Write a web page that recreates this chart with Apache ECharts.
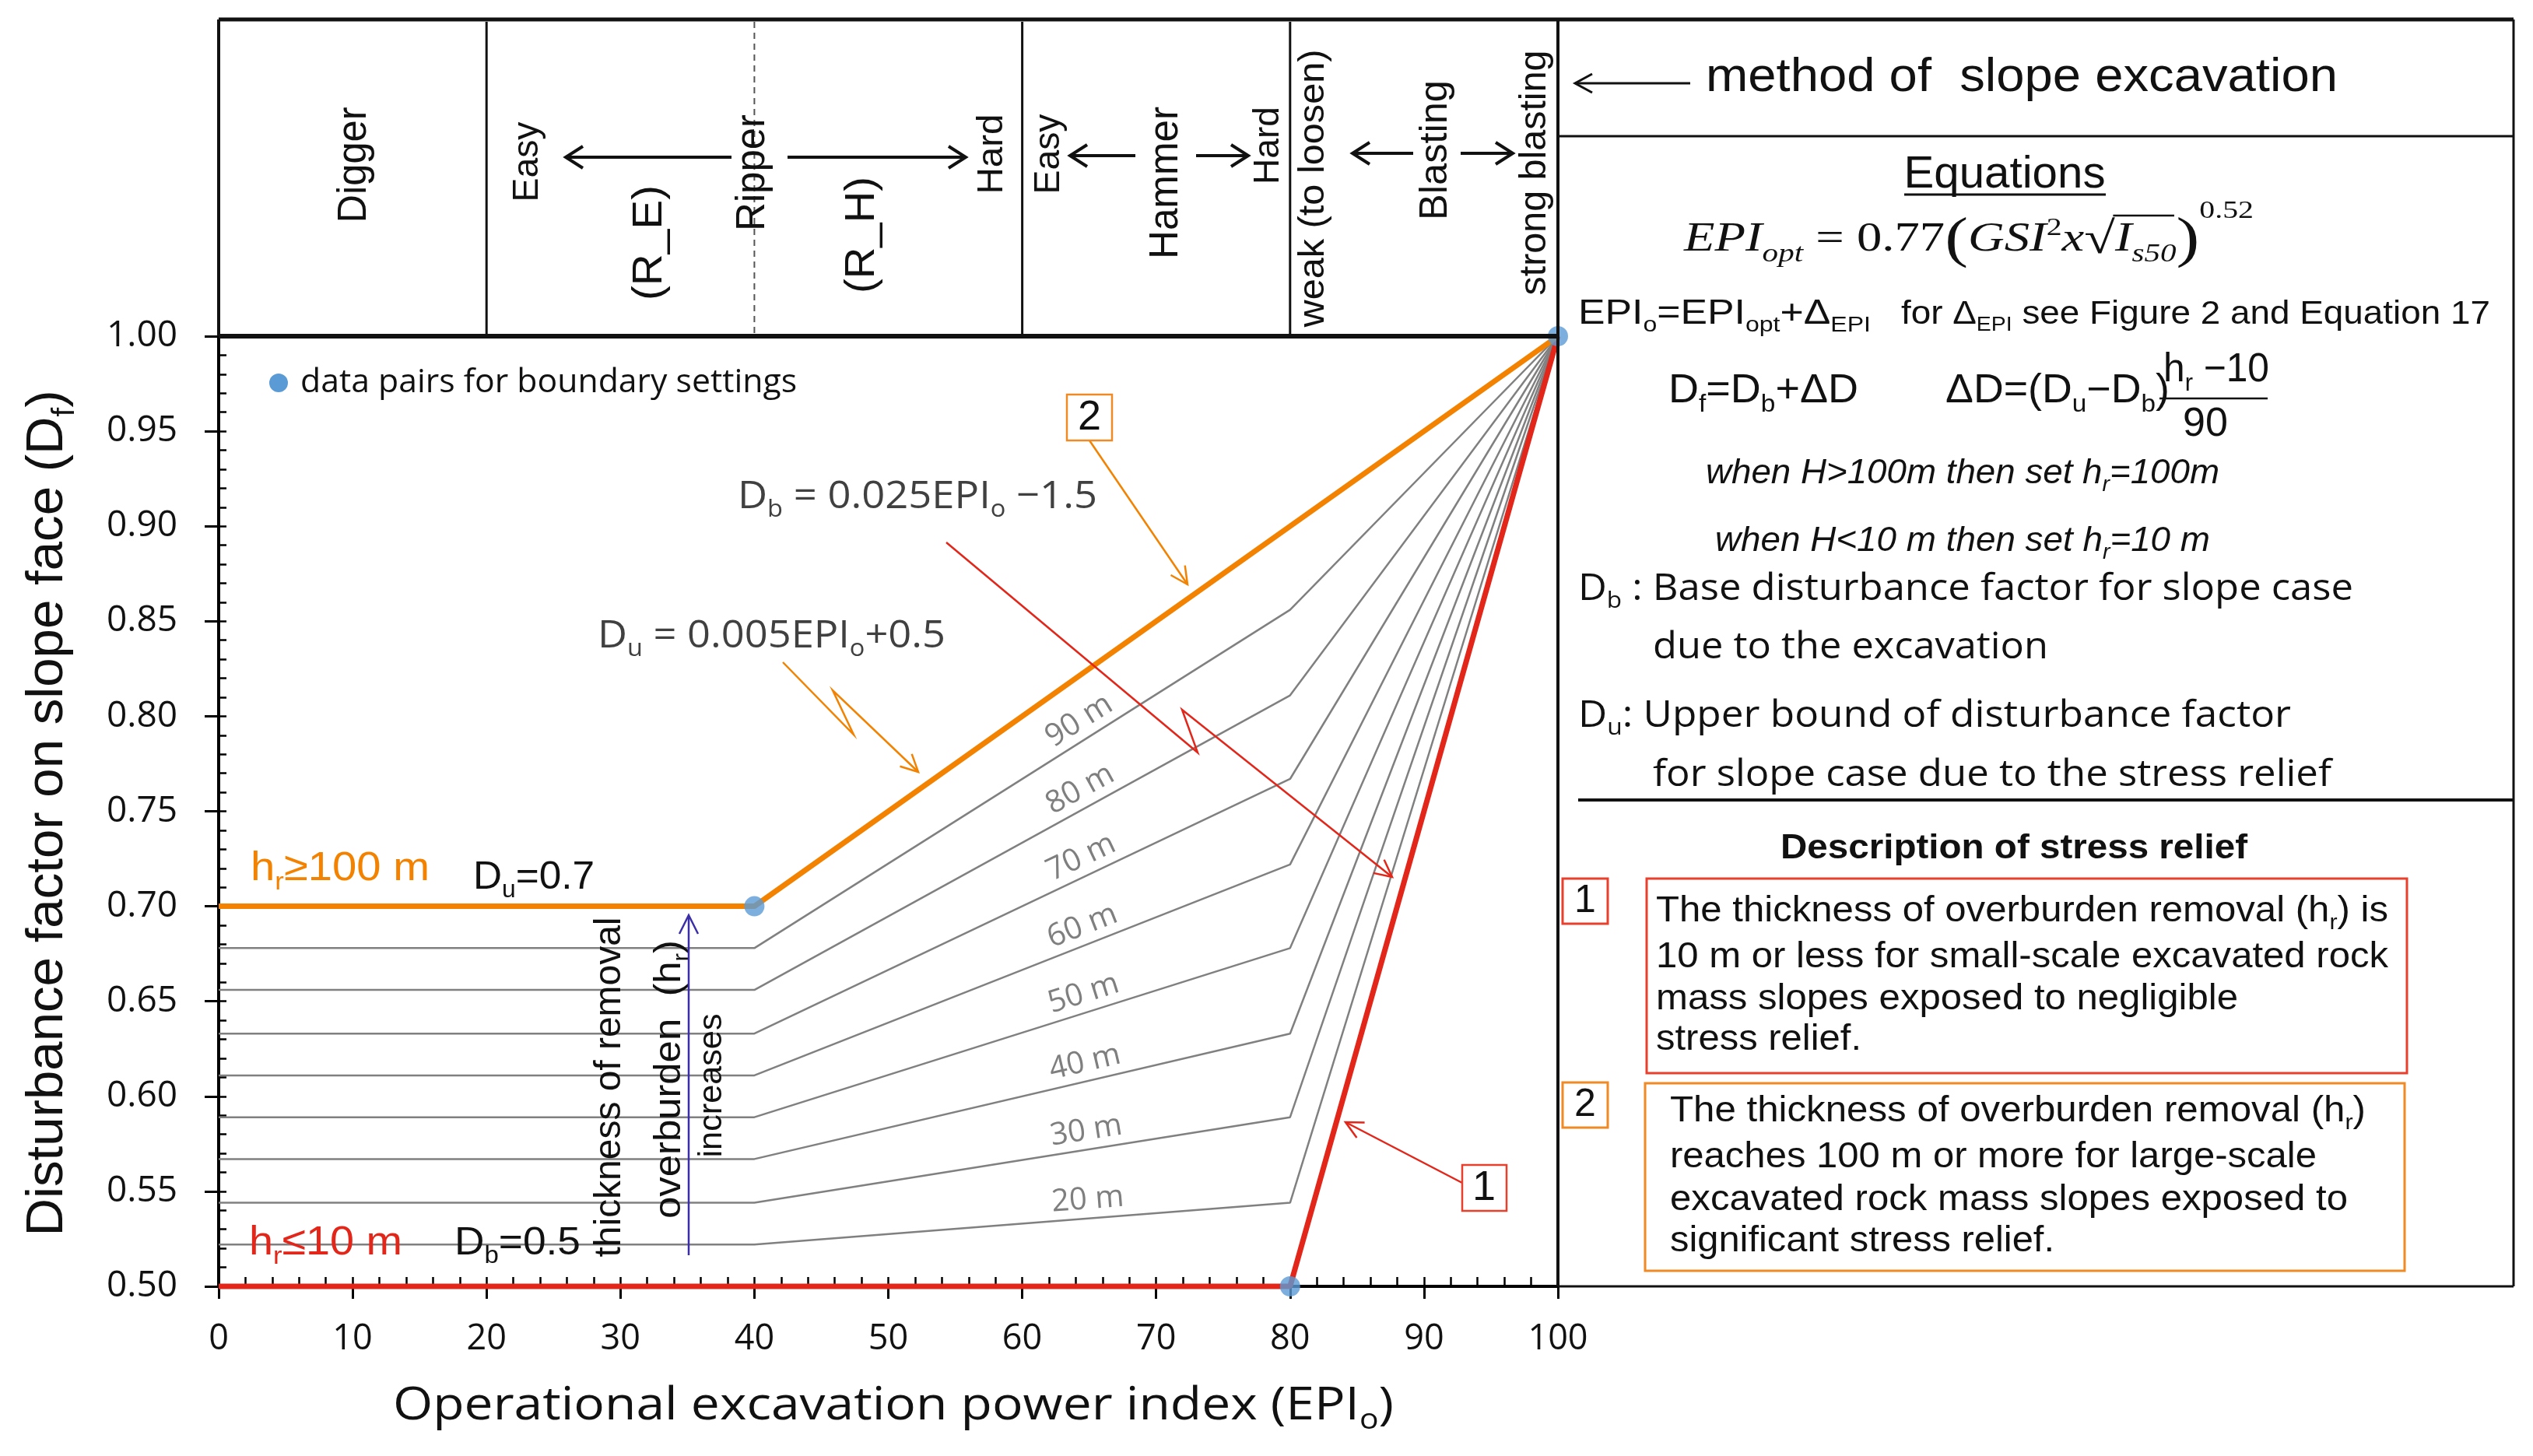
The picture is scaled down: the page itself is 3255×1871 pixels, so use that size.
<!DOCTYPE html>
<html><head><meta charset="utf-8">
<script src="https://cdn.jsdelivr.net/npm/echarts@6/dist/echarts.min.js"></script>
<style>html,body{margin:0;padding:0;background:#fff}#c{width:3255px;height:1871px}</style>
</head><body><div id="c"></div>
<script>
// ---------------- data ----------------
const epiBreaks = [0, 40, 80, 100];
const hrNames = ['20 m', '30 m', '40 m', '50 m', '60 m', '70 m', '80 m', '90 m'];
const hr20 = [0.522, 0.522, 0.544, 1.00];
const hr30 = [0.544, 0.544, 0.589, 1.00];
const hr40 = [0.567, 0.567, 0.633, 1.00];
const hr50 = [0.589, 0.589, 0.678, 1.00];
const hr60 = [0.611, 0.611, 0.722, 1.00];
const hr70 = [0.633, 0.633, 0.767, 1.00];
const hr80 = [0.656, 0.656, 0.811, 1.00];
const hr90 = [0.678, 0.678, 0.856, 1.00];
const hr100Epi = [0, 40, 100];
const hr100Df = [0.70, 0.70, 1.00];
const hr10Epi = [0, 80, 100];
const hr10Df = [0.50, 0.50, 1.00];
const pairEpi = [40, 80, 100];
const pairDf = [0.70, 0.50, 1.00];
const methodBounds = [20, 40, 60, 80];

// ---------------- helpers ----------------
const SANS = "'Liberation Sans', Arial, sans-serif";
const CAL = "'Open Sans', sans-serif";
const SERIF = "'Liberation Serif', 'Times New Roman', serif";
const ctx = document.createElement('canvas').getContext('2d');
function tw(t, size, fam, fs, fw) { ctx.font = (fs || 'normal') + ' ' + (fw || 'normal') + ' ' + size + 'px ' + fam; return ctx.measureText(t).width; }
function parts(s) {
  const out = []; let i = 0, buf = '';
  while (i < s.length) {
    if ((s[i] === '_' || s[i] === '^') && s[i + 1] === '{') {
      if (buf) { out.push([buf, 'n']); buf = ''; }
      const j = s.indexOf('}', i);
      out.push([s.slice(i + 2, j), s[i] === '_' ? 'b' : 'p']);
      i = j + 1;
    } else { buf += s[i]; i++; }
  }
  if (buf) out.push([buf, 'n']);
  return out;
}
function tstyle(t, sz, fam, fs, fw, col) {
  return {text: t, x: 0, y: 0, fontSize: sz, fontFamily: fam, fontStyle: fs, fontWeight: fw, fill: col,
    align: 'left', verticalAlign: 'middle', textAlign: 'left', textVerticalAlign: 'middle'};
}
function label(x, y, s, o) {
  const size = o.size, fam = o.family || SANS, col = o.color || '#111';
  const fs = o.style || 'normal', fw = o.weight || 'normal';
  const sub = size * 0.62;
  let w = 0; const items = [];
  parts(s).forEach(([t, k]) => { const sz = k === 'n' ? size : sub; items.push({t, k, sz, x: w}); w += tw(t, sz, fam, fs, fw); });
  const off = o.align === 'center' ? -w / 2 : (o.align === 'right' ? -w : 0);
  const children = items.map(it => ({type: 'text', z: 100, x: it.x + off,
    y: it.k === 'n' ? 0 : (it.k === 'b' ? size * 0.32 : -size * 0.36),
    style: tstyle(it.t, it.sz, fam, fs, fw, col)}));
  let sc = o.fit ? o.fit / w : 1; sc = Math.max(0.7, Math.min(1.4, sc));
  return {type: 'group', x: x, y: y, rotation: o.rot || 0, scaleX: sc, z: 100, children};
}
function line(pts, color, w, dash) {
  const st = {stroke: color, lineWidth: w, fill: 'none'};
  if (dash) st.lineDash = dash;
  return {type: 'polyline', z: 100, shape: {points: pts}, style: st};
}
function head(tx, ty, fx, fy, color, w, len, half) {
  const a = Math.atan2(ty - fy, tx - fx);
  const bx = tx - len * Math.cos(a), by = ty - len * Math.sin(a);
  const nx = -Math.sin(a) * half, ny = Math.cos(a) * half;
  return line([[bx + nx, by + ny], [tx, ty], [bx - nx, by - ny]], color, w);
}
function rect(x, y, w, h, color, lw) {
  return {type: 'rect', z: 100, shape: {x, y, width: w, height: h}, style: {fill: '#fff', stroke: color, lineWidth: lw}};
}

// ---------------- chart ----------------
const chart = echarts.init(document.getElementById('c'), null, {width: 3255, height: 1871});
const grayList = [hr20, hr30, hr40, hr50, hr60, hr70, hr80, hr90];
const ORANGE = '#F28200', RED = '#E3261A', BLUE = '#5B9BD5';
const series = [];
grayList.forEach((v, k) => series.push({type: 'line', name: hrNames[k], data: epiBreaks.map((x, i) => [x, v[i]]),
  symbol: 'none', lineStyle: {color: '#808080', width: 2.5}, z: 3, clip: false, silent: true}));
series.push({type: 'line', name: 'hr<=10', data: hr10Epi.map((x, i) => [x, hr10Df[i]]), symbol: 'none',
  lineStyle: {color: RED, width: 7}, z: 4, clip: false});
series.push({type: 'line', name: 'hr>=100', data: hr100Epi.map((x, i) => [x, hr100Df[i]]), symbol: 'none',
  lineStyle: {color: ORANGE, width: 7}, z: 5, clip: false});
series.push({type: 'scatter', name: 'pairs', data: pairEpi.map((x, i) => [x, pairDf[i]]), symbolSize: 26,
  itemStyle: {color: BLUE}, z: 6, clip: false});

chart.setOption({
  animation: false,
  backgroundColor: '#fff',
  grid: {left: 281, top: 432, right: 1253, bottom: 218, containLabel: false},
  xAxis: [
    {type: 'value', min: 0, max: 100, interval: 10, position: 'bottom',
      axisLine: {show: true, onZero: false, lineStyle: {color: '#000', width: 4}},
      axisTick: {show: true, inside: false, length: 16, lineStyle: {color: '#000', width: 3}},
      axisLabel: {fontSize: 45, fontFamily: CAL, color: '#111', margin: 46},
      splitLine: {show: false}},
    {type: 'value', min: 0, max: 100, interval: 2, position: 'bottom', offset: 0,
      axisLine: {show: false}, axisTick: {show: true, inside: true, length: 12, lineStyle: {color: '#000', width: 2.5}},
      axisLabel: {show: false}, splitLine: {show: false}}
  ],
  yAxis: [
    {type: 'value', min: 0.5, max: 1.0, interval: 0.05, position: 'left',
      axisLine: {show: true, onZero: false, lineStyle: {color: '#000', width: 4}},
      axisTick: {show: true, inside: false, length: 18, lineStyle: {color: '#000', width: 3}},
      axisLabel: {fontSize: 46, fontFamily: CAL, color: '#111', margin: 53, formatter: v => v.toFixed(2)},
      splitLine: {show: false}},
    {type: 'value', min: 0.5, max: 1.0, interval: 0.01, position: 'left', offset: 0,
      axisLine: {show: false}, axisTick: {show: true, inside: true, length: 10, lineStyle: {color: '#000', width: 2.5}},
      axisLabel: {show: false}, splitLine: {show: false}}
  ],
  series
});

// ---------------- annotations ----------------
const g = [];
const px = v => chart.convertToPixel({seriesIndex: 0}, v);
const pTop = px([0, 1.0]), pBot = px([100, 0.5]);
const X0 = pTop[0], YT = pTop[1], X1 = pBot[0], YB = pBot[1];
const TOPY = 25, RX = 3230;

// frame
g.push(line([[X0, TOPY], [RX, TOPY]], '#111', 5));
g.push(line([[X0, TOPY], [X0, YT]], '#111', 4));
g.push(line([[X0, YT], [X1, YT]], '#111', 6));
g.push(line([[X1, TOPY], [X1, YB]], '#111', 4));
g.push(line([[RX, TOPY], [RX, YB]], '#111', 3));
g.push(line([[X1, YB], [RX, YB]], '#111', 3));
g.push(line([[X1, 175], [RX, 175]], '#111', 3));
g.push(line([[2028, 1028], [RX, 1028]], '#111', 4));
methodBounds.forEach(e => {
  const xx = px([e, 1.0])[0];
  if (e === 40) g.push(line([[xx, TOPY + 3], [xx, YT - 3]], '#555', 2, [8, 6]));
  else g.push(line([[xx, TOPY + 3], [xx, YT - 3]], '#111', 3));
});

// header texts
const R90 = Math.PI / 2;
const headerTexts = [
  [456, 212, 'Digger', 51, 149], [678, 208, 'Easy', 47, 103], [835, 312, '(R_E)', 54, 148],
  [968, 222, 'Ripper', 51, 150], [1108, 302, '(R_H)', 54, 150], [1275, 198, 'Hard', 47, 103],
  [1348, 198, 'Easy', 47, 103], [1499, 235, 'Hammer', 51, 196], [1630, 187, 'Hard', 47, 100],
  [1688, 242, 'weak (to loosen)', 46, 357], [1845, 193, 'Blasting', 50, 180], [1973, 222, 'strong blasting', 48, 315]
];
headerTexts.forEach(h => g.push(label(h[0], h[1], h[2], {size: h[3], align: 'center', rot: R90, fit: h[4]})));
[[940, 727, 202], [1012, 1241, 202], [1459, 1375, 200], [1537, 1604, 200], [1816, 1738, 197], [1877, 1944, 197]].forEach(a => {
  g.push(line([[a[0], a[2]], [a[1], a[2]]], '#111', 4));
  g.push(head(a[1], a[2], a[0], a[2], '#111', 4, 22, 14));
});

// axis titles
g.push(label(62, 1045, 'Disturbance factor on slope face (D_{f})', {size: 67, align: 'center', rot: R90, fit: 1087}));
g.push(label(1148, 1807, 'Operational excavation power index (EPI_{o})', {size: 58, family: CAL, align: 'center', fit: 1286}));

// legend
g.push({type: 'circle', z: 100, shape: {cx: 358, cy: 492, r: 12}, style: {fill: BLUE}});
g.push(label(386, 492, 'data pairs for boundary settings', {size: 42, family: CAL, fit: 638}));

// in-plot texts
g.push(label(322, 1117, 'h_{r}≥100 m', {size: 52, color: ORANGE, fit: 230}));
g.push(label(608, 1128, 'D_{u}=0.7', {size: 50, fit: 156}));
g.push(label(320, 1598, 'h_{r}≤10 m', {size: 52, color: RED, fit: 197}));
g.push(label(584, 1598, 'D_{b}=0.5', {size: 50, fit: 162}));
g.push(label(948, 639, 'D_{b} = 0.025EPI_{o} −1.5', {size: 50, family: CAL, color: '#404040', fit: 462}));
g.push(label(768, 818, 'D_{u} = 0.005EPI_{o}+0.5', {size: 50, family: CAL, color: '#404040', fit: 447}));
g.push(label(784, 1397, 'thickness of removal', {size: 48, align: 'center', rot: R90, fit: 437}));
g.push(label(861, 1387, 'overburden  (h_{r})', {size: 48, align: 'center', rot: R90, fit: 358}));
g.push(label(915, 1395, 'increases', {size: 42, align: 'center', rot: R90, fit: 185}));
g.push(line([[885, 1613], [885, 1178]], '#3B2FA8', 2.5));
g.push(head(885, 1176, 885, 1613, '#3B2FA8', 2.5, 24, 12));

// hr labels along the gray lines
const labelEpi = 65;
grayList.forEach((v, k) => {
  const a = px([40, v[1]]), b = px([80, v[2]]);
  const t = (labelEpi - 40) / 40;
  const lx = a[0] + (b[0] - a[0]) * t, ly = a[1] + (b[1] - a[1]) * t;
  const ang = Math.atan2(a[1] - b[1], b[0] - a[0]);
  const d = 24;
  g.push(label(lx - d * Math.sin(ang), ly - d * Math.cos(ang), hrNames[k], {size: 40, family: CAL, color: '#7F7F7F', align: 'center', rot: ang}));
});

// callouts
const OR2 = '#F08A24', RD2 = '#E8402C';
g.push(line([[1006, 851], [1097, 944], [1070, 887], [1180, 992]], ORANGE, 2.5));
g.push(head(1180, 992, 1070, 887, ORANGE, 2.5, 22, 11));
g.push(line([[1216, 697], [1539, 967], [1519, 912], [1789, 1127]], RED, 2.5));
g.push(head(1789, 1127, 1519, 912, RED, 2.5, 22, 11));
g.push(line([[1400, 566], [1526, 751]], ORANGE, 2.5));
g.push(head(1526, 751, 1400, 566, ORANGE, 2.5, 22, 11));
g.push(rect(1371, 507, 58, 59, OR2, 2.5));
g.push(label(1400, 537, '2', {size: 54, align: 'center'}));
g.push(line([[1879, 1520], [1729, 1442]], RED, 2.5));
g.push(head(1729, 1442, 1879, 1520, RED, 2.5, 22, 11));
g.push(rect(1879, 1497, 57, 59, RD2, 2.5));
g.push(label(1907, 1527, '1', {size: 54, align: 'center'}));

// ---------------- right panel ----------------
g.push(line([[2024, 107], [2172, 107]], '#111', 3));
g.push(head(2024, 107, 2172, 107, '#111', 3, 22, 12));
g.push(label(2192, 100, 'method of  slope excavation', {size: 62, fit: 812}));
g.push(label(2576, 225, 'Equations', {size: 57, align: 'center', fit: 259}));
g.push(line([[2447, 250], [2706, 250]], '#111', 3));

// formula
(function () {
  const toks = [
    ['EPI', 52, 'italic', 0], ['opt', 33, 'italic', 19], [' = 0.77', 52, 'normal', 0], ['(', 72, 'normal', 2],
    ['GSI', 52, 'italic', 0], ['2', 32, 'normal', -14], ['x', 52, 'italic', 0], ['√', 58, 'normal', 2],
    ['I', 52, 'italic', 0], ['s50', 33, 'italic', 19], [')', 72, 'normal', 2], ['0.52', 32, 'normal', -36]
  ];
  let w = 0; const xs = []; const ch = [];
  toks.forEach(t => { xs.push(w); ch.push({type: 'text', z: 100, x: w, y: t[3], style: tstyle(t[0], t[1], SERIF, t[2], 'normal', '#111')}); w += tw(t[0], t[1], SERIF, t[2], 'normal'); });
  ch.push({type: 'polyline', z: 100, shape: {points: [[xs[8] - 2, -31], [xs[10] - 2, -31]]}, style: {stroke: '#111', lineWidth: 2.5, fill: 'none'}});
  g.push({type: 'group', x: 2164, y: 308, scaleX: 732 / w, z: 100, children: ch});
})();

g.push(label(2028, 404, 'EPI_{o}=EPI_{opt}+Δ_{EPI}', {size: 44, fit: 376}));
g.push(label(2443, 404, 'for Δ_{EPI} see Figure 2 and Equation 17', {size: 43, fit: 757}));
g.push(label(2144, 503, 'D_{f}=D_{b}+ΔD', {size: 52, fit: 244}));
g.push(label(2500, 503, 'ΔD=(D_{u}−D_{b})', {size: 52, fit: 288}));
g.push(label(2780, 476, 'h_{r} −10', {size: 52, fit: 136}));
g.push(line([[2775, 512], [2914, 512]], '#111', 2.5));
g.push(label(2834, 546, '90', {size: 52, align: 'center'}));
g.push(label(2192, 609, 'when H>100m then set h_{r}=100m', {size: 44, style: 'italic', fit: 660}));
g.push(label(2204, 696, 'when H<10 m then set h_{r}=10 m', {size: 44, style: 'italic', fit: 636}));
g.push(label(2028, 757, 'D_{b} : Base disturbance factor for slope case', {size: 48, family: CAL, fit: 996}));
g.push(label(2124, 832, 'due to the excavation', {size: 48, family: CAL, fit: 508}));
g.push(label(2028, 920, 'D_{u}: Upper bound of disturbance factor', {size: 48, family: CAL, fit: 916}));
g.push(label(2124, 996, 'for slope case due to the stress relief', {size: 48, family: CAL, fit: 872}));

g.push(label(2588, 1091, 'Description of stress relief', {size: 45, weight: 'bold', align: 'center', fit: 600}));
g.push(rect(2008, 1129, 58, 58, RD2, 3));
g.push(label(2037, 1158, '1', {size: 50, align: 'center'}));
g.push(rect(2116, 1129, 977, 250, RD2, 3));
[[1171, 'The thickness of overburden removal (h_{r}) is', 941], [1230, '10 m or less for small-scale excavated rock', 941],
 [1284, 'mass slopes exposed to negligible', 748], [1336, 'stress relief.', 264]].forEach(l =>
  g.push(label(2128, l[0], l[1], {size: 46, fit: l[2]})));
g.push(rect(2008, 1391, 58, 58, OR2, 3));
g.push(label(2037, 1420, '2', {size: 50, align: 'center'}));
g.push(rect(2114, 1392, 976, 241, OR2, 3));
[[1428, 'The thickness of overburden removal (h_{r})', 894], [1487, 'reaches 100 m or more for large-scale', 831],
 [1542, 'excavated rock mass slopes exposed to', 871], [1595, 'significant stress relief.', 494]].forEach(l =>
  g.push(label(2146, l[0], l[1], {size: 46, fit: l[2]})));

chart.setOption({graphic: {elements: g}});
</script></body></html>
